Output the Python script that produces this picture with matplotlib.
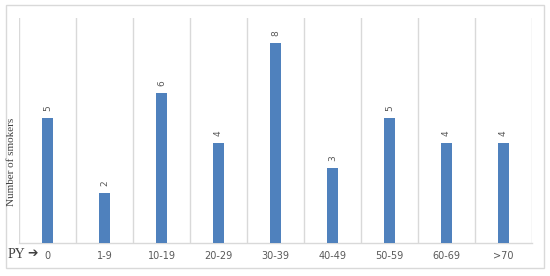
import matplotlib
matplotlib.use("Agg")
import matplotlib.pyplot as plt
from matplotlib.patches import Rectangle

categories = ["0", "1-9", "10-19", "20-29", "30-39", "40-49", "50-59", "60-69", ">70"]
smokers = [5, 2, 6, 4, 8, 3, 5, 4, 4]

W, H = 550, 276
fig = plt.figure(figsize=(W / 100, H / 100), dpi=100)
ax = fig.add_axes([19 / W, 1 - 243 / H, (532 - 19) / W, (243 - 18) / H])

bar_color = "#4F81BD"
grid_color = "#D9D9D9"
text_color = "#595959"

x = list(range(len(categories)))
ax.bar(x, smokers, width=0.18, color=bar_color, zorder=3)
ax.set_xlim(-0.5, len(categories) - 0.5)
ax.set_ylim(0, 9)

for i in range(len(categories) + 1):
    ax.axvline(i - 0.5, color=grid_color, lw=1, zorder=1)

for s in ["top", "right", "left"]:
    ax.spines[s].set_visible(False)
ax.spines["bottom"].set_color(grid_color)
ax.spines["bottom"].set_linewidth(1)

ax.set_yticks([])
ax.set_xticks(x)
ax.set_xticklabels(categories, fontsize=7, color=text_color, family="DejaVu Sans")
ax.tick_params(axis="x", length=0, pad=6)

for xi, v in zip(x, smokers):
    ax.annotate(str(v), (xi, v), xytext=(0, 5), textcoords="offset points",
                rotation=90, ha="center", va="bottom", fontsize=6.5, color=text_color)

fig.text(12 / W, 1 - 162 / H, "Number of smokers", rotation=90, ha="center", va="center",
         fontsize=8, family="Liberation Serif", color="#404040")
fig.text(8 / W, 1 - 254 / H, "PY", ha="left", va="center", fontsize=10,
         family="Liberation Serif", color="#404040")
fig.text(27 / W, 1 - 254 / H, "\u2794", ha="left", va="center", fontsize=9,
         family="DejaVu Sans", color="#404040")

fig.patches.append(Rectangle((6 / W, 1 - 268 / H), (544 - 6) / W, (268 - 5) / H,
                             transform=fig.transFigure, fill=False,
                             edgecolor=grid_color, lw=1))

fig.savefig("out.png", dpi=100)
